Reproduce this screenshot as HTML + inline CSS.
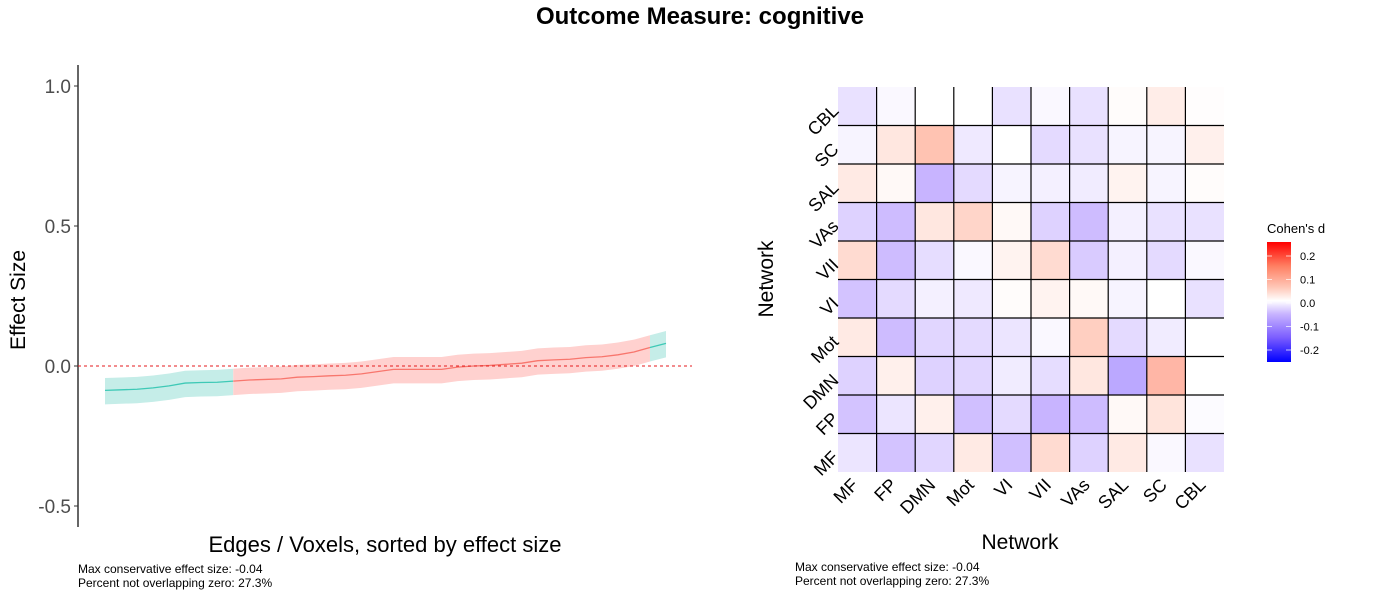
<!DOCTYPE html>
<html><head><meta charset="utf-8"><style>
body{margin:0;background:#fff}
svg{display:block;font-family:"Liberation Sans",sans-serif}
</style></head><body>
<svg id="s" width="1400" height="600" viewBox="0 0 1400 600">
<defs>
<linearGradient id="lg" x1="0" y1="1" x2="0" y2="0">
<stop offset="0" stop-color="#0000ff"/><stop offset="0.2" stop-color="#7a5cff"/><stop offset="0.4" stop-color="#c8b4ff"/><stop offset="0.51" stop-color="#ffffff"/><stop offset="0.62" stop-color="#ffc8b8"/><stop offset="0.8" stop-color="#ff7f62"/><stop offset="1" stop-color="#ff0000"/>
</linearGradient>
</defs>
<text x="700" y="24" text-anchor="middle" font-size="24" font-weight="bold">Outcome Measure: cognitive</text>
<g id="left"></g>
<g id="right"></g>
<text x="78" y="573" font-size="12">Max conservative effect size: -0.04</text>
<text x="78" y="587" font-size="12">Percent not overlapping zero: 27.3%</text>
<text x="795" y="571" font-size="12">Max conservative effect size: -0.04</text>
<text x="795" y="585" font-size="12">Percent not overlapping zero: 27.3%</text>
</svg>
<script>
const effect=[-0.087,-0.085,-0.083,-0.078,-0.071,-0.061,-0.059,-0.058,-0.054,-0.050,-0.048,-0.046,-0.040,-0.038,-0.035,-0.033,-0.028,-0.020,-0.012,-0.012,-0.012,-0.012,-0.004,0,0.002,0.006,0.010,0.019,0.022,0.024,0.030,0.033,0.040,0.050,0.066,0.081];
const lowerCI=effect.map(v=>v-0.050);
const upperCI=effect.map(v=>v+0.044);
const significant=[1,1,1,1,1,1,1,1,0,0,0,0,0,0,0,0,0,0,0,0,0,0,0,0,0,0,0,0,0,0,0,0,0,0,1,1];
const yTicks=[1.0,0.5,0.0,-0.5];
const yTickLabels=["1.0","0.5","0.0","-0.5"];
const networks=["MF","FP","DMN","Mot","VI","VII","VAs","SAL","SC","CBL"];
// rows bottom (MF) to top (CBL), columns MF..CBL
const cohensD=[
[-0.035,-0.08,-0.055,0.035,-0.085,0.06,-0.06,0.035,-0.01,-0.04],
[-0.08,-0.035,0.025,-0.085,-0.05,-0.1,-0.09,0.01,0.045,-0.005],
[-0.06,0.025,-0.06,-0.055,-0.025,-0.045,0.04,-0.11,0.11,0],
[0.035,-0.09,-0.055,-0.05,-0.035,-0.01,0.08,-0.05,-0.025,0],
[-0.08,-0.05,-0.02,-0.03,0.005,0.02,0.01,-0.015,0,-0.04],
[0.06,-0.09,-0.045,-0.01,0.02,0.06,-0.07,-0.02,-0.05,-0.01],
[-0.06,-0.09,0.04,0.07,0.01,-0.06,-0.09,-0.02,-0.04,-0.04],
[0.035,0.01,-0.1,-0.05,-0.015,-0.02,-0.025,0.02,-0.015,0.005],
[-0.015,0.04,0.1,-0.03,0,-0.05,-0.04,-0.015,-0.015,0.025],
[-0.04,-0.01,0,0,-0.04,-0.01,-0.04,0.005,0.03,0.003]];
const legendTicks=[0.2,0.1,0.0,-0.1,-0.2];
const legendLabels=["0.2","0.1","0.0","-0.1","-0.2"];

const NS="http://www.w3.org/2000/svg";
function mk(p,t,a){const e=document.createElementNS(NS,t);for(const k in a)e.setAttribute(k,a[k]);p.appendChild(e);return e;}
const L=document.getElementById('left'),R=document.getElementById('right');
const y=v=>366-v*280;
const x=i=>105+i*(666-105)/(effect.length-1);
let ax=mk(L,'line',{x1:78,y1:65,x2:78,y2:527,stroke:'#000','stroke-width':1.2});

yTicks.forEach((t,i)=>{
 let tk=mk(L,'line',{x1:74,x2:78,y1:y(t),y2:y(t),stroke:'#333'});
 
 let tl=mk(L,'text',{x:71,y:y(t)+7,'text-anchor':'end','font-size':19,fill:'#4d4d4d'});
 tl.textContent=yTickLabels[i];
 
});
let segs=[],cur=null;
effect.forEach((v,i)=>{if(!cur||cur.s!==significant[i]){if(cur)cur.e=i;cur={s:significant[i],b:i};segs.push(cur);}});
cur.e=effect.length-1;
segs.forEach(sg=>{
 let idx=[];for(let i=sg.b;i<=sg.e;i++)idx.push(i);
 const fc=sg.s?'#c5ede8':'#ffd1cf',lc=sg.s?'#3ec9b6':'#f8766d';
 let d='M'+idx.map(i=>x(i)+','+y(upperCI[i])).join('L')+'L'+idx.slice().reverse().map(i=>x(i)+','+y(lowerCI[i])).join('L')+'Z';
 let b=mk(L,'path',{d:d,fill:fc});
 
 let l=mk(L,'polyline',{points:idx.map(i=>x(i)+','+y(effect[i])).join(' '),fill:'none',stroke:lc,'stroke-width':1.3});
 
});
let zl=mk(L,'line',{x1:78,x2:692,y1:y(0),y2:y(0),stroke:'#e41a1c','stroke-dasharray':'3,3','stroke-width':1});

let xt=mk(L,'text',{x:385,y:552,'text-anchor':'middle','font-size':22});xt.textContent='Edges / Voxels, sorted by effect size';

let yt=mk(L,'text',{x:25,y:300,'text-anchor':'middle','font-size':21,transform:'rotate(-90 25 300)'});yt.textContent='Effect Size';


const hx0=838,hy1=472,cw=38.6,ch=38.5;
function lerp(a,b,t){return a.map((v,i)=>Math.round(v+(b[i]-v)*t));}
function col(v){
 const st=v<0?[[0,[255,255,255]],[0.1,[200,180,255]],[0.25,[0,0,255]]]:[[0,[255,255,255]],[0.1,[255,195,178]],[0.25,[255,0,0]]];
 const a=Math.min(Math.abs(v),0.25);
 let c=st[0][1];
 for(let k=0;k<st.length-1;k++){if(a>=st[k][0]&&a<=st[k+1][0]){c=lerp(st[k][1],st[k+1][1],(a-st[k][0])/(st[k+1][0]-st[k][0]));}}
 return 'rgb('+c.join(',')+')';
}
cohensD.forEach((row,r)=>row.forEach((v,c)=>{
 let rc=mk(R,'rect',{x:hx0+c*cw,y:hy1-(r+1)*ch,width:cw,height:ch,fill:col(v)});
 
}));
for(let k=1;k<10;k++){
 mk(R,'line',{x1:hx0+k*cw,x2:hx0+k*cw,y1:hy1-10*ch,y2:hy1,stroke:'#000','stroke-width':1.2});
 mk(R,'line',{x1:hx0,x2:hx0+10*cw,y1:hy1-k*ch,y2:hy1-k*ch,stroke:'#000','stroke-width':1.2});
}
networks.forEach((n,i)=>{
 const cy=hy1-(i+0.5)*ch;
 let t=mk(R,'text',{x:834,y:cy+8,'text-anchor':'end','font-size':18,transform:`rotate(-45 834 ${cy})`});t.textContent=n;
 
 const cx=hx0+(i+0.5)*cw;
 let u=mk(R,'text',{x:cx+2,y:486,'text-anchor':'end','font-size':18,transform:`rotate(-45 ${cx+2} 486)`});u.textContent=n;
 
});
let hxt=mk(R,'text',{x:1020,y:549,'text-anchor':'middle','font-size':21});hxt.textContent='Network';

let hyt=mk(R,'text',{x:773,y:279,'text-anchor':'middle','font-size':21,transform:'rotate(-90 773 279)'});hyt.textContent='Network';

let lt=mk(R,'text',{x:1267,y:233,'font-size':13});lt.textContent="Cohen's d";

let lb=mk(R,'rect',{x:1267,y:242,width:24,height:120,fill:'url(#lg)'});

const ly=v=>303-v*235;
legendTicks.forEach((t,i)=>{
 mk(R,'line',{x1:1267,x2:1272,y1:ly(t),y2:ly(t),stroke:'#fff','stroke-opacity':0.7});
 mk(R,'line',{x1:1286,x2:1291,y1:ly(t),y2:ly(t),stroke:'#fff','stroke-opacity':0.7});
 let tl=mk(R,'text',{x:1300,y:ly(t)+4,'font-size':11});tl.textContent=legendLabels[i];
 
});
</script>
</body></html>
